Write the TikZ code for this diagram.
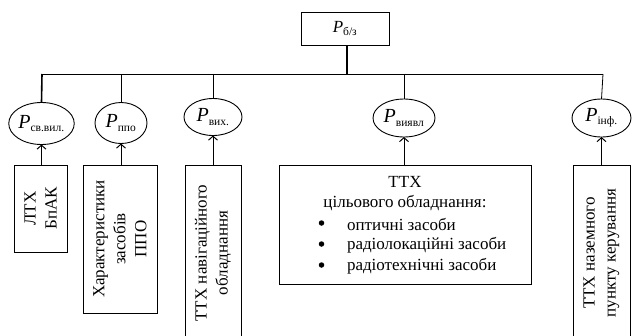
\documentclass[tikz,border=0pt]{standalone}
\usepackage{fontspec}
\setmainfont{Liberation Serif}
\usetikzlibrary{shapes.geometric,arrows.meta}
\begin{document}
\begin{tikzpicture}[x=1pt,y=-1pt,
  every node/.style={inner sep=0pt,outer sep=0pt,font=\fontsize{17}{21}\selectfont},
  pbox/.style={draw,line width=0.9pt,rectangle},
  rbox/.style={draw,line width=0.9pt,rectangle,rotate=90,align=center},
  pell/.style={draw,line width=0.9pt,ellipse,font=\fontsize{20}{22}\selectfont},
  link/.style={line width=0.8pt},
  dot/.style={circle,fill=black,minimum size=5.5pt},
  uparrow/.style={line width=1pt,-{Straight Barb[length=4pt,width=9pt,line width=1pt]}}
]
\useasboundingbox (0,0) rectangle (634,335);
\newcommand{\sub}[1]{\textsubscript{\upshape\fontsize{11.5}{12}\selectfont #1}}
% top box
\node[pbox,minimum width=88,minimum height=33] (top) at (345,28.5) {\fontsize{17}{18}\selectfont\textit{P}\sub{б/з}};
\coordinate (hj) at (347,74);
\coordinate (hl) at (42,74);
\coordinate (hr) at (603,74);
\draw[line width=1.6pt] (top.south -| hj) -- (hj);
\draw[link] (hl) -- (hr);
% ellipses
\node[pell,minimum width=51,minimum height=42] (e1) at (41.5,123.5) {\textit{P}\sub{св.вил.}};
\node[pell,minimum width=52,minimum height=41] (e2) at (121,123) {\textit{P}\sub{ппо}};
\node[pell,minimum width=58,minimum height=37] (e3) at (213,117) {\textit{P}\sub{вих.}};
\node[pell,minimum width=62,minimum height=38] (e4) at (404,118) {\textit{P}\sub{виявл}};
\node[pell,minimum width=59,minimum height=38] (e5) at (601.5,118) {\textit{P}\sub{інф.}};
\draw[line width=1.6pt] (hl) -- (e1.north);
\draw[link] (e2.north |- hl) -- (e2.north);
\draw[link] (e3.north |- hl) -- (e3.north);
\draw[link] (e4.north |- hl) -- (e4.north);
\draw[link] (hr) -- (e5.north);
% boxes
\node[rbox,minimum width=87,minimum height=53] (b1) at (40.5,208.5) {ЛТХ\\БпАК};
\node[rbox,minimum width=148,minimum height=74] (b2) at (120,239) {Характеристики\\засобів\\ППО};
\node[rbox,minimum width=176,minimum height=56] (b3) at (213,253) {ТТХ навігаційного\\обладнання};
\node[pbox,minimum width=252,minimum height=119] (b4) at (405,224.5) {};
\node[rbox,minimum width=176,minimum height=57] (b5) at (601.5,253) {ТТХ наземного\\пункту керування};
% box 4 text
\node (t1) at (405,182) {ТТХ};
\node (t2) at (405,203) {цільового обладнання:};
\node[anchor=west] (l1) at (347,224) {оптичні засоби};
\node[anchor=west] (l2) at (347,245) {радіолокаційні засоби};
\node[anchor=west] (l3) at (347,266) {радіотехнічні засоби};
\node[dot] (d1) at (321.5,223) {};
\node[dot] (d2) at (321.5,244) {};
\node[dot] (d3) at (321.5,265) {};
% arrows
\draw[uparrow] (b1.east -| e1.south) -- (e1.south);
\draw[uparrow] (b2.east -| e2.south) -- (e2.south);
\draw[uparrow] (b3.east -| e3.south) -- (e3.south);
\draw[uparrow] (b4.north -| e4.south) -- (e4.south);
\draw[uparrow] (b5.east -| e5.south) -- (e5.south);
\end{tikzpicture}
\end{document}
